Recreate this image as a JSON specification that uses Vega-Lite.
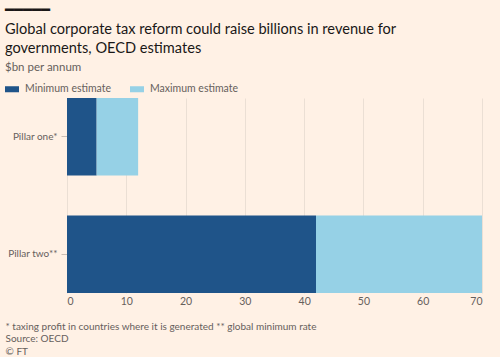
{
  "$schema": "https://vega.github.io/schema/vega-lite/v6.json",
  "width": 500,
  "height": 357,
  "autosize": {"type": "fit", "contains": "padding"},
  "padding": {"left": 5, "top": 2, "right": 18, "bottom": 0},
  "background": "#FFF1E5",
  "title": {
    "text": ["━━━━━", "Global corporate tax reform could raise billions in revenue for", "governments, OECD estimates"],
    "subtitle": "$bn per annum",
    "anchor": "start",
    "frame": "bounds",
    "font": "Lato",
    "fontSize": 14.6,
    "fontWeight": "normal",
    "color": "#1a1817",
    "lineHeight": 19,
    "subtitleFont": "Lato",
    "subtitleFontSize": 11.5,
    "subtitleColor": "#66605c",
    "subtitlePadding": 6,
    "offset": 25
  },
  "data": {
    "values": [
      {"pillar": "Pillar one*", "estimate": "Minimum estimate", "start": 0, "end": 5},
      {"pillar": "Pillar one*", "estimate": "Maximum estimate", "start": 5, "end": 12},
      {"pillar": "Pillar two**", "estimate": "Minimum estimate", "start": 0, "end": 42},
      {"pillar": "Pillar two**", "estimate": "Maximum estimate", "start": 42, "end": 70}
    ]
  },
  "mark": {"type": "bar"},
  "encoding": {
    "y": {
      "field": "pillar",
      "type": "nominal",
      "scale": {"paddingInner": 0.34, "paddingOuter": 0},
      "axis": {
        "title": null,
        "domain": false,
        "ticks": true,
        "tickSize": 6,
        "tickColor": "#c9bdb3",
        "labelPadding": 4,
        "labelFont": "Lato",
        "labelFontSize": 10,
        "labelColor": "#66605c"
      }
    },
    "x": {
      "field": "start",
      "type": "quantitative",
      "scale": {"domain": [0, 70], "nice": false},
      "axis": {
        "values": [0, 10, 20, 30, 40, 50, 60, 70],
        "domain": false,
        "ticks": false,
        "grid": true,
        "gridColor": "#ebdfd4",
        "labelPadding": 3,
        "labelFont": "Lato",
        "labelFontSize": 10.5,
        "labelColor": "#66605c",
        "title": ["* taxing profit in countries where it is generated ** global minimum rate", "Source: OECD", "© FT"],
        "titleFont": "Lato",
        "titleFontSize": 10,
        "titleFontWeight": "normal",
        "titleColor": "#66605c",
        "titleAnchor": "start",
        "titleAlign": "left",
        "titleBaseline": "top",
        "titleLineHeight": 12.8,
        "titleX": -62,
        "titleY": 28
      }
    },
    "x2": {"field": "end"},
    "color": {
      "field": "estimate",
      "type": "nominal",
      "scale": {"domain": ["Minimum estimate", "Maximum estimate"], "range": ["#1f5489", "#96d1e6"]},
      "legend": {
        "title": null,
        "orient": "none",
        "direction": "horizontal",
        "legendX": -62,
        "legendY": -16,
        "symbolType": "M-1,-0.43H1V0.43H-1Z",
        "symbolSize": 196,
        "symbolStrokeWidth": 0,
        "labelFont": "Lato",
        "labelFontSize": 10.5,
        "labelColor": "#66605c",
        "labelOffset": 6,
        "columnPadding": 18
      }
    }
  },
  "config": {"view": {"stroke": null}}
}
